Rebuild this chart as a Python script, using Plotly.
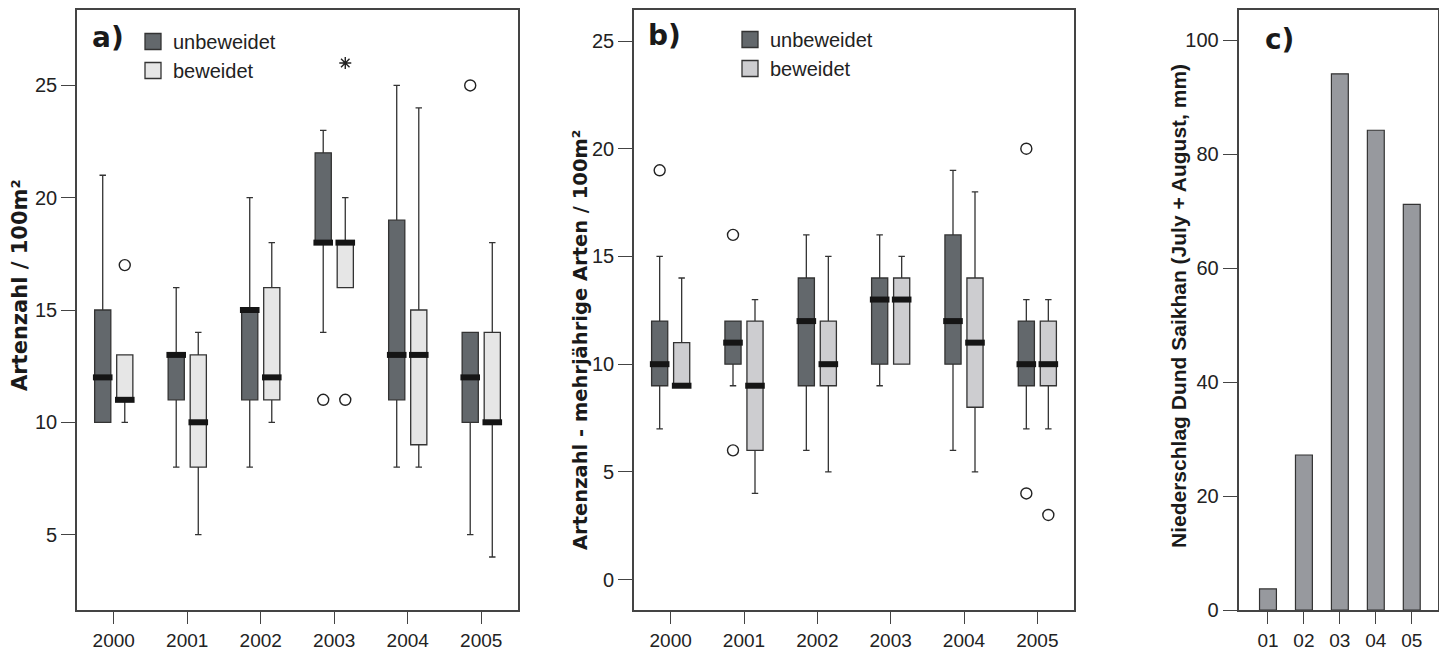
import plotly.graph_objects as go

W, H = 1439, 653

years = ["2000", "2001", "2002", "2003", "2004", "2005"]
groups = ["unbeweidet", "beweidet"]

# ---- Panel a: Artenzahl / 100m2 ----
a_unb_q1 = [10, 11, 11, 18, 11, 10]
a_unb_med = [12, 13, 15, 18, 13, 12]
a_unb_q3 = [15, 13, 15, 22, 19, 14]
a_unb_lo = [10, 8, 8, 14, 8, 5]
a_unb_hi = [21, 16, 20, 23, 25, 14]
a_bew_q1 = [11, 8, 11, 16, 9, 10]
a_bew_med = [11, 10, 12, 18, 13, 10]
a_bew_q3 = [13, 13, 16, 18, 15, 14]
a_bew_lo = [10, 5, 10, 16, 8, 4]
a_bew_hi = [13, 14, 18, 20, 24, 18]
a_unb_out_year = ["2003", "2005"]
a_unb_out_val = [11, 25]
a_bew_out_year = ["2000", "2003"]
a_bew_out_val = [17, 11]
a_bew_ext_year = ["2003"]
a_bew_ext_val = [26]

# ---- Panel b: Artenzahl - mehrjaehrige Arten / 100m2 ----
b_unb_q1 = [9, 10, 9, 10, 10, 9]
b_unb_med = [10, 11, 12, 13, 12, 10]
b_unb_q3 = [12, 12, 14, 14, 16, 12]
b_unb_lo = [7, 9, 6, 9, 6, 7]
b_unb_hi = [15, 12, 16, 16, 19, 13]
b_bew_q1 = [9, 6, 9, 10, 8, 9]
b_bew_med = [9, 9, 10, 13, 11, 10]
b_bew_q3 = [11, 12, 12, 14, 14, 12]
b_bew_lo = [9, 4, 5, 10, 5, 7]
b_bew_hi = [14, 13, 15, 15, 18, 13]
b_unb_out_year = ["2000", "2001", "2001", "2005", "2005"]
b_unb_out_val = [19, 16, 6, 20, 4]
b_bew_out_year = ["2005"]
b_bew_out_val = [3]

# ---- Panel c: precipitation ----
precip_years = ["01", "02", "03", "04", "05"]
precip_mm = [3.7, 27.2, 94.1, 84.2, 71.2]

# ---- styles ----
DARK = "#63686c"
LIGHT_A = "#e6e6e6"
LIGHT_B = "#cdcdd0"
EDGE = "#333333"
FRAME = "#444444"
OFFSET = 0.15
BOXW = 0.22
TXT = "#222222"
FONT = "Liberation Sans"


def pos(year_list, off):
    return [years.index(y) + off for y in year_list]


fig = go.Figure()


def add_boxes(xa, ya, q1, med, q3, lo, hi, off, fill):
    xs = pos(years, off)
    fig.add_trace(go.Box(
        x=xs, q1=q1, median=med, q3=q3, lowerfence=lo, upperfence=hi,
        width=BOXW, whiskerwidth=0.4, fillcolor=fill,
        line=dict(color=EDGE, width=1.3), boxpoints=False,
        showlegend=False, hoverinfo="skip", xaxis=xa, yaxis=ya))
    fig.add_trace(go.Scatter(
        x=xs, y=med, mode="markers",
        marker=dict(symbol="line-ew", size=14, line=dict(width=6, color="#151515")),
        showlegend=False, hoverinfo="skip", xaxis=xa, yaxis=ya))


def add_points(xa, ya, yrs, vals, off, symbol="circle-open", size=11):
    fig.add_trace(go.Scatter(
        x=pos(yrs, off), y=vals, mode="markers",
        marker=dict(symbol=symbol, size=size, color="#222",
                    line=dict(width=1.4, color="#222")),
        showlegend=False, hoverinfo="skip", xaxis=xa, yaxis=ya))


def add_legend(xa, ya, leg, light):
    for name, col in zip(groups, [DARK, light]):
        fig.add_trace(go.Scatter(
            x=[None], y=[None], mode="markers", name=name, legend=leg,
            marker=dict(symbol="square", size=16, color=col,
                        line=dict(color=EDGE, width=1.3)),
            xaxis=xa, yaxis=ya))


# panel a
add_boxes("x", "y", a_unb_q1, a_unb_med, a_unb_q3, a_unb_lo, a_unb_hi, -OFFSET, DARK)
add_boxes("x", "y", a_bew_q1, a_bew_med, a_bew_q3, a_bew_lo, a_bew_hi, OFFSET, LIGHT_A)
add_points("x", "y", a_unb_out_year, a_unb_out_val, -OFFSET)
add_points("x", "y", a_bew_out_year, a_bew_out_val, OFFSET)
add_points("x", "y", a_bew_ext_year, a_bew_ext_val, OFFSET, symbol="asterisk-open", size=10)
add_legend("x", "y", "legend", LIGHT_A)

# panel b
add_boxes("x2", "y2", b_unb_q1, b_unb_med, b_unb_q3, b_unb_lo, b_unb_hi, -OFFSET, DARK)
add_boxes("x2", "y2", b_bew_q1, b_bew_med, b_bew_q3, b_bew_lo, b_bew_hi, OFFSET, LIGHT_B)
add_points("x2", "y2", b_unb_out_year, b_unb_out_val, -OFFSET)
add_points("x2", "y2", b_bew_out_year, b_bew_out_val, OFFSET)
add_legend("x2", "y2", "legend2", LIGHT_B)

# panel c
fig.add_trace(go.Bar(
    x=list(range(len(precip_years))), y=precip_mm, width=0.47,
    marker=dict(color="#97999e", line=dict(color=EDGE, width=1.2)),
    showlegend=False, hoverinfo="skip", xaxis="x3", yaxis="y3"))


def px_x(p):
    return p / W


def px_y(p):
    return 1 - p / H


ydom = [px_y(610), px_y(10)]

common_x = dict(showline=True, mirror=True, linecolor=FRAME, linewidth=1.6,
                ticks="outside", ticklen=12, tickwidth=1.4, tickcolor=FRAME,
                showgrid=False, zeroline=False, automargin=False,
                tickfont=dict(family=FONT, size=19, color=TXT))
common_y = dict(showline=True, mirror=True, linecolor=FRAME, linewidth=1.6,
                ticks="outside", ticklen=14, tickwidth=1.4, tickcolor=FRAME,
                showgrid=False, zeroline=False, automargin=False,
                tickfont=dict(family=FONT, size=20, color=TXT))

fig.update_layout(
    width=W, height=H, margin=dict(l=0, r=0, t=0, b=0),
    paper_bgcolor="white", plot_bgcolor="white", boxmode="overlay",
    xaxis=dict(domain=[px_x(77), px_x(518)], range=[-0.5, 5.5],
               tickvals=list(range(6)), ticktext=years, anchor="y", **common_x),
    yaxis=dict(domain=ydom, range=[1.64, 28.36], tickvals=[5, 10, 15, 20, 25],
               anchor="x", **common_y),
    xaxis2=dict(domain=[px_x(634), px_x(1074)], range=[-0.5, 5.5],
                tickvals=list(range(6)), ticktext=years, anchor="y2", **common_x),
    yaxis2=dict(domain=ydom, range=[-1.41, 26.44], tickvals=[0, 5, 10, 15, 20, 25],
                anchor="x2", **common_y),
    xaxis3=dict(domain=[px_x(1238.5), px_x(1438)], range=[-0.82, 4.73],
                tickvals=list(range(len(precip_years))), ticktext=precip_years,
                anchor="y3", **common_x),
    yaxis3=dict(domain=ydom, range=[0, 105.3], tickvals=[0, 20, 40, 60, 80, 100],
                anchor="x3", **common_y),
    legend=dict(x=px_x(133), y=px_y(22), xanchor="left", yanchor="top",
                bgcolor="rgba(0,0,0,0)", font=dict(family=FONT, size=20, color=TXT),
                tracegroupgap=0),
    legend2=dict(x=px_x(730), y=px_y(20), xanchor="left", yanchor="top",
                 bgcolor="rgba(0,0,0,0)", font=dict(family=FONT, size=20, color=TXT),
                 tracegroupgap=0),
)

annos = [
    dict(text="Artenzahl / 100m²", x=px_x(20), y=px_y(285), textangle=-90,
         font=dict(family="DejaVu Sans", size=21, color="#1a1a1a", weight="bold")),
    dict(text="Artenzahl - mehrjährige Arten / 100m²", x=px_x(580), y=px_y(340),
         textangle=-90,
         font=dict(family="DejaVu Sans", size=19.5, color="#1a1a1a", weight="bold")),
    dict(text="Niederschlag Dund Saikhan (July + August, mm)", x=px_x(1178),
         y=px_y(306), textangle=-90,
         font=dict(family=FONT, size=21, color="#1a1a1a", weight="bold")),
    dict(text="a)", x=px_x(107.6), y=px_y(38),
         font=dict(family="DejaVu Sans", size=28, color="#1a1a1a", weight="bold")),
    dict(text="b)", x=px_x(664.5), y=px_y(35),
         font=dict(family="DejaVu Sans", size=28, color="#1a1a1a", weight="bold")),
    dict(text="c)", x=px_x(1279), y=px_y(40),
         font=dict(family="DejaVu Sans", size=28, color="#1a1a1a", weight="bold")),
]
for a in annos:
    a.update(xref="paper", yref="paper", showarrow=False,
             xanchor="center", yanchor="middle")
fig.update_layout(annotations=annos)

fig.write_html("out.html")
